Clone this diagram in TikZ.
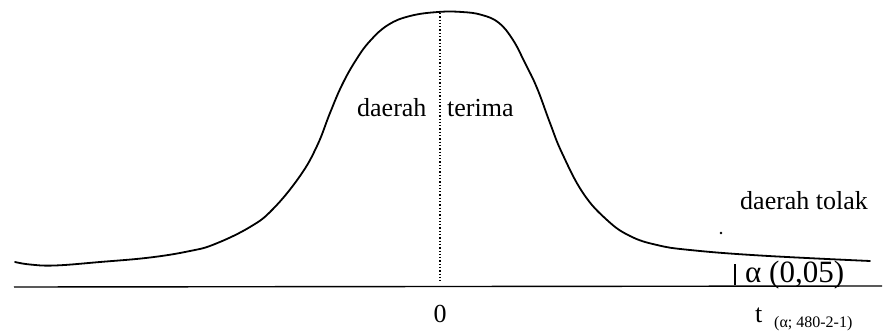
\documentclass[tikz,border=0pt]{standalone}
\usepackage{fontspec}
\setmainfont{Liberation Serif}
\begin{document}
\begin{tikzpicture}[x=1pt,y=-1pt,
  curve/.style={line width=1.8pt,line join=round,line cap=round},
  axisline/.style={line width=1.4pt},
  lbl/.style={inner sep=0pt,anchor=base west,font=\fontsize{26}{30}\selectfont},
  biglbl/.style={inner sep=0pt,anchor=base west,font=\fontsize{31}{34}\selectfont},
  sublbl/.style={inner sep=0pt,anchor=base west,font=\fontsize{16}{18}\selectfont}]
\useasboundingbox (0,0) rectangle (886,331);
% curve
\draw[curve] plot[smooth,tension=0.7] coordinates {
 (15,262) (30,264.5) (55,265.5) (100,262) (150,257.5) (190,251) (215,244)
 (250,227) (273,209) (300,176) (317,146) (330,113) (342,85)
 (356,60) (370,41) (388,25) (410,16) (438,12) (462,12) (482,15) (499,23)
 (513,40) (525,63) (537,88) (550,123) (562,153) (583,193)
 (607,220) (630,236) (657,245) (690,250) (760,255.5) (870,261)};
% axis
\coordinate (axL) at (14,287);
\coordinate (axR) at (882,286);
\draw[axisline] (axL) -- (axR);
% centre dotted line
\coordinate (cTop) at (440,13);
\coordinate (cBot) at (440,281);
\draw[dotted,line width=1.3pt] (cTop) -- (cBot);
% tick before alpha
\coordinate (tkT) at (735,264);
\coordinate (tkB) at (735,285);
\draw[line width=1.2pt] (tkT) -- (tkB);
% stray dot
\fill (721,233) circle (1.3);
% labels
\node[lbl] (l1) at (357,117) {daerah};
\node[lbl] (l2) at (447,117) {terima};
\node[lbl] (l3) at (740,210) {daerah tolak};
\node[biglbl] (l4) at (745,282) {α (0,05)};
\node[lbl,anchor=base] (l5) at (440,322) {0};
\node[lbl] (l6) at (755,322) {t};
\node[sublbl] (l7) at (774,327) {(α; 480-2-1)};
\end{tikzpicture}
\end{document}
